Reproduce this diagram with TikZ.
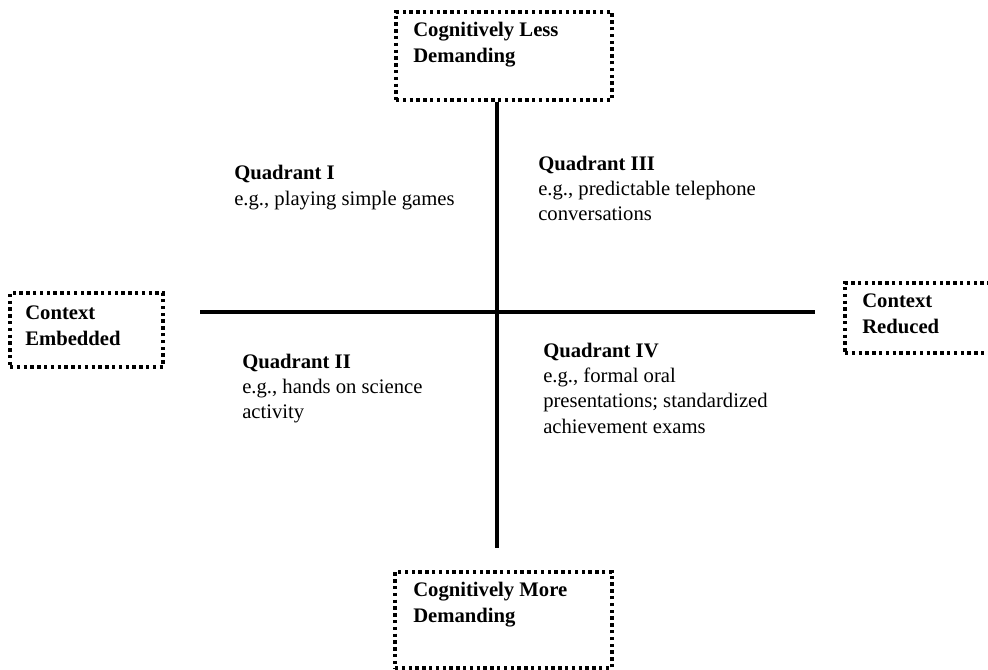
\documentclass[tikz,border=0pt]{standalone}
\usepackage{fontspec}
\setmainfont{Liberation Serif}
\newcommand{\fsz}{\fontsize{15.5}{19}\selectfont}
\begin{document}
\begin{tikzpicture}[x=0.75pt,y=-0.75pt,
  dotbox/.style={draw, line width=2.6pt, dash pattern=on 2.5pt off 2.6pt, inner sep=0pt},
  axis/.style={line width=2.4pt},
  boxtxt/.style={anchor=base west, align=left, inner sep=0pt, font=\fsz\bfseries},
  quad/.style={anchor=base west, align=left, inner sep=0pt, font=\fsz}]
\clip (0,0) rectangle (988,670);
% boxes
\node[dotbox, minimum width=162pt, minimum height=66pt] (top) at (504,56) {};
\node[dotbox, minimum width=114.75pt, minimum height=55.5pt] (left) at (86.5,330) {};
\node[dotbox, minimum width=112.5pt, minimum height=52.5pt] (right) at (920,318) {};
\node[dotbox, minimum width=162.75pt, minimum height=72pt] (bottom) at (503.5,620) {};
% axes
\coordinate (vbot) at (497,548);
\coordinate (hl) at (200,312);
\coordinate (hr) at (815,312);
\draw[axis] (top.south -| vbot) -- (vbot);
\draw[axis] (hl) -- (hr);
% box texts (anchored at the baseline of the last line)
\node[boxtxt] (ttop) at (413,62.3) {Cognitively Less\\Demanding};
\node[boxtxt] (tleft) at (25,345.3) {Context\\Embedded};
\node[boxtxt] (tright) at (862,333.3) {Context\\Reduced};
\node[boxtxt] (tbottom) at (413,622.3) {Cognitively More\\Demanding};
% quadrant texts
\node[quad] (q1) at (234,205.3) {\textbf{Quadrant I}\\e.g., playing simple games};
\node[quad] (q3) at (538,220.7) {\textbf{Quadrant III}\\e.g., predictable telephone\\conversations};
\node[quad] (q2) at (242,418.7) {\textbf{Quadrant II}\\e.g., hands on science\\activity};
\node[quad] (q4) at (543,433) {\textbf{Quadrant IV}\\e.g., formal oral\\presentations; standardized\\achievement exams};
\end{tikzpicture}
\end{document}
